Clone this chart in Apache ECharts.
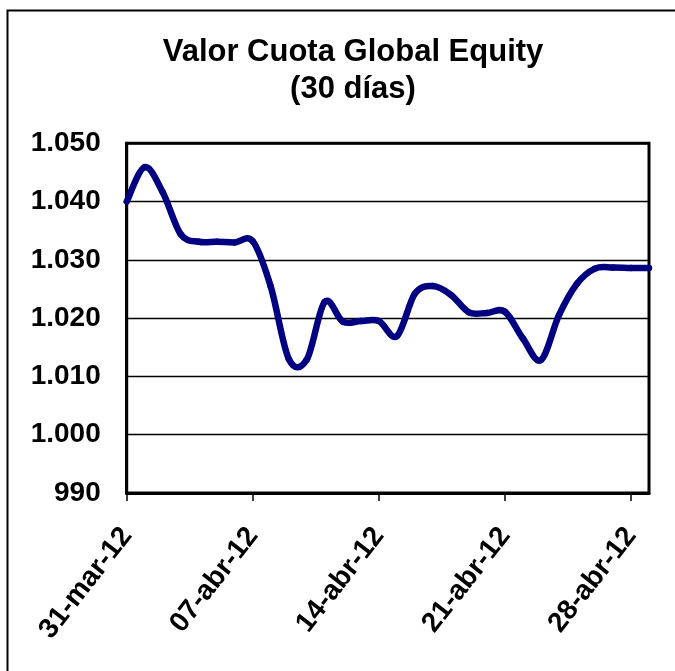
<!DOCTYPE html>
<html>
<head>
<meta charset="utf-8">
<script src="https://cdn.jsdelivr.net/npm/echarts@6/dist/echarts.min.js"></script>
<style>
html,body{margin:0;padding:0;background:#fff;}
#chart{width:675px;height:671px;}
</style>
</head>
<body>
<div id="chart"></div>
<script>
var categories = ['31-mar-12','01-abr-12','02-abr-12','03-abr-12','04-abr-12','05-abr-12','06-abr-12',
  '07-abr-12','08-abr-12','09-abr-12','10-abr-12','11-abr-12','12-abr-12','13-abr-12',
  '14-abr-12','15-abr-12','16-abr-12','17-abr-12','18-abr-12','19-abr-12','20-abr-12',
  '21-abr-12','22-abr-12','23-abr-12','24-abr-12','25-abr-12','26-abr-12','27-abr-12',
  '28-abr-12','29-abr-12'];
var valorCuota = [1040.0, 1045.9, 1041.6, 1034.4, 1033.1, 1033.1, 1033.0,
  1033.2, 1025.4, 1013.0, 1012.9, 1022.8, 1019.4, 1019.5,
  1019.5, 1016.9, 1024.2, 1025.5, 1024.0, 1021.0, 1020.9,
  1021.1, 1016.5, 1012.8, 1020.5, 1025.9, 1028.5, 1028.7,
  1028.6, 1028.6];
var yMin = 990, yMax = 1050, yStep = 10;
var titleText = 'Valor Cuota Global Equity\n(30 días)';

var FONT = '"Liberation Sans", Arial, sans-serif';
function fmt(v){ return String(v).replace(/\B(?=(\d{3})+(?!\d))/g, '.'); }

var seriesData = valorCuota.map(function(v, i){ return [i, v]; });
var n = valorCuota.length;

// Smoothed line (Catmull-Rom style, like a spreadsheet "smoothed line"),
// each segment drawn between two data points positioned by the axes.
function renderSegment(params, api) {
  var i = params.dataIndex;
  if (i >= n - 1) return null;
  function P(k) {
    k = Math.max(0, Math.min(n - 1, k));
    return api.coord([k, valorCuota[k]]);
  }
  var p0 = P(i - 1), p1 = P(i), p2 = P(i + 1), p3 = P(i + 2);
  var t = 1 / 6;
  return {
    type: 'bezierCurve',
    shape: {
      x1: p1[0], y1: p1[1], x2: p2[0], y2: p2[1],
      cpx1: p1[0] + (p2[0] - p0[0]) * t, cpy1: p1[1] + (p2[1] - p0[1]) * t,
      cpx2: p2[0] - (p3[0] - p1[0]) * t, cpy2: p2[1] - (p3[1] - p1[1]) * t
    },
    style: {stroke: '#000080', lineWidth: 6.5, fill: null, lineCap: 'round'},
    silent: true
  };
}

var chart = echarts.init(document.getElementById('chart'), null, {renderer:'canvas'});
chart.setOption({
  animation: false,
  backgroundColor: '#fff',
  title: {
    text: titleText,
    left: 348,
    top: 29,
    textAlign: 'center',
    textStyle: {fontFamily: FONT, fontWeight: 'bold', fontSize: 31, color: '#000', lineHeight: 37}
  },
  graphic: [{
    type: 'rect', shape: {x: 7.5, y: 10.5, width: 720, height: 720},
    style: {fill: 'none', stroke: '#000', lineWidth: 2}, silent: true
  }],
  grid: {left: 126.7, right: 26, top: 143.3, bottom: 178, show: true, borderColor: '#000', borderWidth: 3, containLabel: false},
  xAxis: {
    type: 'category',
    data: categories,
    boundaryGap: false,
    axisLine: {show: true, lineStyle: {color: '#000', width: 3}},
    axisTick: {show: true, interval: 6, length: 8, inside: false, lineStyle: {color: '#000', width: 1.5}},
    axisLabel: {interval: 6, rotate: 52, margin: 38, fontFamily: FONT, fontWeight: 'bold', fontSize: 28, color: '#000'},
    splitLine: {show: false}
  },
  yAxis: {
    type: 'value',
    min: yMin, max: yMax, interval: yStep,
    axisLine: {show: true, lineStyle: {color: '#000', width: 3}},
    axisTick: {show: false},
    axisLabel: {margin: 26, fontFamily: FONT, fontWeight: 'bold', fontSize: 28, color: '#000', formatter: fmt},
    splitLine: {show: true, lineStyle: {color: '#000', width: 1.3}}
  },
  series: [{
    type: 'custom',
    name: 'Valor Cuota',
    data: seriesData,
    encode: {x: 0, y: 1},
    renderItem: renderSegment,
    clip: false,
    z: 5
  }]
});
</script>
</body>
</html>
